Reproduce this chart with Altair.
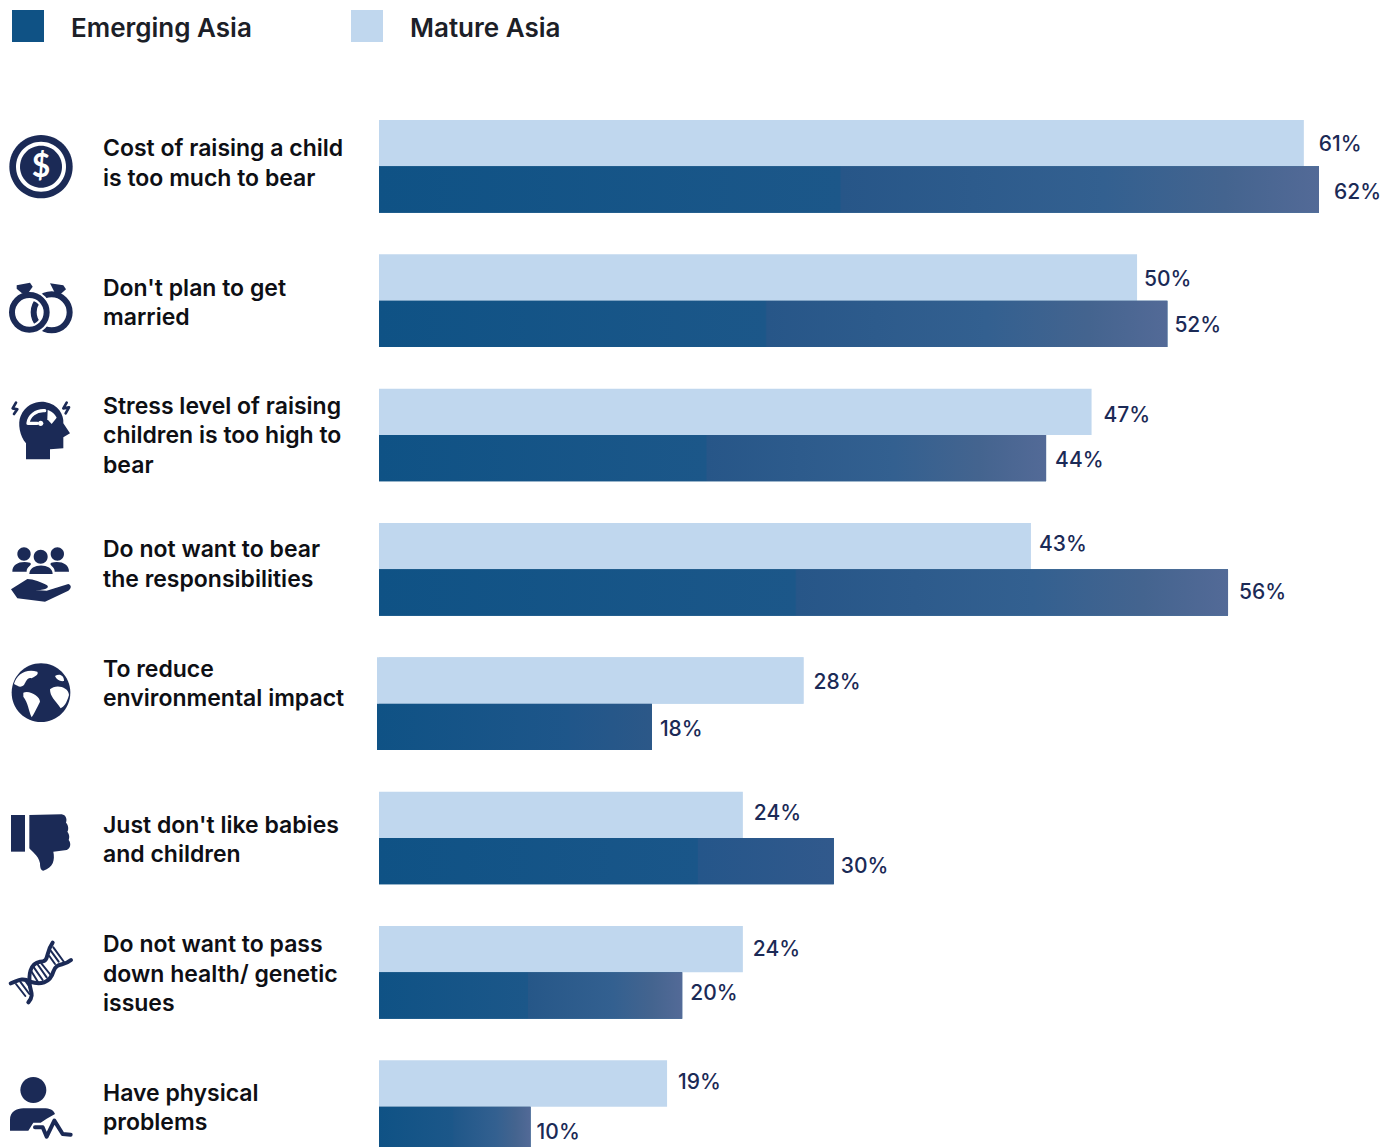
import altair as alt
import pandas as pd

categories = [
    "Cost of raising a child\nis too much to bear",
    "Don't plan to get\nmarried",
    "Stress level of raising\nchildren is too high to\nbear",
    "Do not want to bear\nthe responsibilities",
    "To reduce\nenvironmental impact",
    "Just don't like babies\nand children",
    "Do not want to pass\ndown health/ genetic\nissues",
    "Have physical\nproblems",
]
mature_asia = [61, 50, 47, 43, 28, 24, 24, 19]
emerging_asia = [62, 52, 44, 56, 18, 30, 20, 10]
series_names = ["Mature Asia", "Emerging Asia"]

LIGHT = "#c0d7ee"
DARK = "#0f5285"
INK = "#1b2a56"
TEXT_FONT = "Inter"

# Per-row nudges of the text: first-line dy of the category block, then (dx, dy) of the value labels
row_dy = [-17, -12, -28, -19, -34, -12, -27, -13]
mature_nudge = [(15, 2), (7, 2), (12, 4), (8, -1), (10, 3), (11, -1), (10, 1), (11, 0)]
emerging_nudge = [(15, 3), (7, 2), (9, 3), (11, 0), (8, 3), (7, 6), (8, -1), (6, 3)]

# Fade of each dark bar: (break position, colour before, colour after, later stops)
TAIL = [(0.77, "#336090"), (0.9, "#44648f"), (1, "#536a97")]
fades = [
    (0.49, "#1c5789", "#275688", TAIL),
    (0.49, "#1c5789", "#275688", TAIL),
    (0.49, "#1c5789", "#275688", TAIL),
    (0.49, "#1c5789", "#275688", TAIL),
    (0.70, "#1e568a", "#20568a", [(1, "#2c5888")]),
    (0.70, "#1a5689", "#25568a", [(1, "#31598c")]),
    (0.49, "#1c5789", "#265788", TAIL),
    (0.49, "#1c5789", "#1f5789", TAIL),
]

table = pd.DataFrame({
    "category": categories * 2,
    "series": ["Mature Asia"] * 8 + ["Emerging Asia"] * 8,
    "value": mature_asia + emerging_asia,
})
table["label"] = table["value"].astype(str) + "%"

x_scale = alt.Scale(domain=[0, 62], range=[379, 1319])
y_scale = alt.Scale(domain=categories, range=[120, 1153], paddingInner=0.31, paddingOuter=0)
y = alt.Y("category:N", scale=y_scale, axis=None)
y_off = alt.YOffset("series:N", scale=alt.Scale(domain=series_names, paddingInner=0, paddingOuter=0))
x = alt.X("value:Q", scale=x_scale, axis=None)

layers = []

# Solid bars; these carry the legend
base_bars = (
    alt.Chart(table)
    .mark_bar()
    .encode(
        x=x,
        y=y,
        yOffset=y_off,
        color=alt.Color(
            "series:N",
            scale=alt.Scale(domain=["Emerging Asia", "Mature Asia"], range=[DARK, LIGHT]),
            legend=alt.Legend(
                title=None,
                orient="none",
                legendX=12,
                legendY=13,
                direction="horizontal",
                columns=2,
                # square sits slightly above the label's middle
                symbolType="M-1,-1.1875 L1,-1.1875 L1,0.8125 L-1,0.8125 Z",
                symbolSize=1024,
                symbolStrokeWidth=0,
                labelFont=TEXT_FONT,
                labelFontSize=26,
                labelFontWeight=600,
                labelColor="#1c2027",
                labelOffset=27,
                columnPadding=99,
                labelLimit=400,
            ),
        ),
    )
)
layers.append(base_bars)

# Row-by-row gradient and text layers
for i, cat in enumerate(categories):
    row = table[table["category"] == cat]
    emerging = row[row["series"] == "Emerging Asia"]
    mature = row[row["series"] == "Mature Asia"]
    brk, before, after, tail = fades[i]
    stops = [
        alt.GradientStop(offset=0, color=DARK),
        alt.GradientStop(offset=brk, color=before),
        alt.GradientStop(offset=brk + 0.002, color=after),
    ] + [alt.GradientStop(offset=o, color=c) for o, c in tail]
    fill = alt.Gradient(gradient="linear", x1=0, x2=1, y1=0, y2=0, stops=stops)
    # the fifth row's bars start a touch further left
    if i == 4:
        layers.append(
            alt.Chart(mature)
            .mark_bar(color=LIGHT, x2Offset=-2)
            .encode(x=x, x2=alt.X2(datum=0), y=y, yOffset=y_off)
        )
        layers.append(
            alt.Chart(emerging)
            .mark_bar(color=fill, x2Offset=-2)
            .encode(x=x, x2=alt.X2(datum=0), y=y, yOffset=y_off)
        )
    else:
        layers.append(
            alt.Chart(emerging).mark_bar(color=fill).encode(x=x, y=y, yOffset=y_off)
        )
    for frame, nudge in ((mature, mature_nudge[i]), (emerging, emerging_nudge[i])):
        layers.append(
            alt.Chart(frame)
            .mark_text(
                align="left", baseline="middle", font=TEXT_FONT, fontSize=21, fontWeight=500,
                color=INK, dx=nudge[0], dy=nudge[1],
            )
            .encode(x=x, y=y, yOffset=y_off, text="label:N")
        )
    layers.append(
        alt.Chart(row.head(1))
        .mark_text(
            align="left", baseline="middle", font=TEXT_FONT, fontSize=23, fontWeight=600,
            color="#0e0f14", lineBreak="\n", lineHeight=29.3, dy=row_dy[i],
        )
        .encode(x=alt.value(103), y=y, text="category:N")
    )

# Pictograms: outlines are drawn in a 3x local grid, placed at a band's origin
GRID = 4 / 9


def dot(cx, cy, r):
    return f"M{cx + r},{cy} A{r},{r} 0 1 0 {cx - r},{cy} A{r},{r} 0 1 0 {cx + r},{cy} Z"


def glyph(path, top, fill=INK, stroke=None, width=0):
    frame = alt.Data(values=[{"k": 1}])
    props = {"shape": path, "size": GRID, "opacity": 1}
    if stroke:
        props.update(filled=False, stroke=stroke, strokeWidth=width / 3, strokeCap="round", strokeJoin="round")
    else:
        props.update(filled=True, fill=fill, strokeWidth=0)
    return alt.Chart(frame).mark_point(**props).encode(x=alt.value(0), y=alt.value(top))


WHITE = "#ffffff"
PULSE = "M105,1042 L128,1042 L140,1070 L163,1022 L188,1062 L212,1064"
icons = [
    # coin
    (dot(123, 500, 95), 0, INK, None, 0),
    (dot(123, 500, 75), 0, WHITE, None, 0),
    (dot(123, 500, 63), 0, INK, None, 0),
    # rings
    (dot(155, 937, 54), 0, None, INK, 18),
    (dot(88, 937, 52), 0, None, WHITE, 31),
    (dot(88, 937, 52), 0, None, INK, 18),
    ("M50,856 L90,848 L98,860 L84,880 L66,880 L50,866 Z", 0, INK, None, 0),
    ("M150,850 L190,856 L198,868 L182,882 L165,880 Z", 0, INK, None, 0),
    # head with gauge
    ("M78,238 L78,190 C60,170 52,130 62,108 C78,70 115,62 135,66 C175,72 192,105 190,130 "
     "L210,160 L190,172 L190,205 L150,208 L150,238 Z", 380, INK, None, 0),
    ("M84,130 C86,108 108,90 134,92 M84,130 L112,130", 380, None, WHITE, 10),
    ("M143,90 C155,93 165,103 170,113 L155,132 L142,118 Z", 380, WHITE, None, 0),
    (dot(122, 130, 8), 380, WHITE, None, 0),
    ("M48,68 L38,85 L52,88 L42,102", 380, None, INK, 8),
    ("M200,68 L190,85 L207,82 L197,100", 380, None, INK, 8),
    # people and open hand
    (dot(72, 522, 20), 380, INK, None, 0),
    (dot(172, 522, 20), 380, INK, None, 0),
    ("M37,575 C37,552 60,542 90,548 C100,555 78,560 80,575 Z", 380, INK, None, 0),
    ("M207,575 C207,552 184,542 154,548 C144,555 166,560 164,575 Z", 380, INK, None, 0),
    (dot(122, 530, 21), 380, INK, None, 0),
    ("M88,582 C88,548 158,548 158,582 Z", 380, INK, None, 0),
    ("M33,628 L82,597 C100,597 125,608 140,615 C150,622 140,631 105,630 L140,632 "
     "L205,612 C215,615 215,625 205,632 L135,665 L52,655 Z", 380, INK, None, 0),
    # globe
    (dot(123, 938, 88), 380, INK, None, 0),
    ("M42,912 C50,885 75,865 112,875 C118,885 100,890 95,895 C82,890 78,905 72,915 C60,925 55,918 42,912 Z",
     380, WHITE, None, 0),
    ("M70,938 C90,930 120,950 120,965 C110,985 100,1005 95,1012 C85,990 85,970 70,950 Z", 380, WHITE, None, 0),
    ("M150,928 C165,912 205,918 207,945 C200,970 192,980 182,985 C165,960 150,950 150,928 Z", 380, WHITE, None, 0),
    ("M165,888 C178,880 192,885 192,903 C180,905 170,900 165,888 Z", 380, WHITE, None, 0),
    # thumb down with finger notches
    ("M33,105 L75,105 L75,215 L33,215 Z", 780, INK, None, 0),
    ("M88,105 L185,103 C198,105 202,118 198,128 C206,135 206,150 202,155 C210,165 208,175 206,180 "
     "C214,190 212,205 200,210 L160,215 C165,240 160,262 130,272 C122,272 120,262 120,250 "
     "C115,225 95,215 88,205 Z", 780, INK, None, 0),
    # double helix
    ("M158,488 C135,520 150,545 120,545 C90,550 85,585 90,620 C95,640 100,650 85,667", 780, None, INK, 12),
    ("M213,540 C190,560 170,545 160,575 C150,610 120,615 90,605 C65,590 50,605 32,610", 780, None, INK, 12),
    ("M100,560 L128,600 M112,552 L140,592 M124,550 L152,585 M94,574 L114,606 "
     "M152,512 L176,545 M160,502 L192,546 M148,528 L165,552 "
     "M48,612 L76,648 M60,604 L88,642 M74,600 L92,625", 780, None, INK, 6),
    # person with pulse trace
    (dot(100, 930, 39), 780, INK, None, 0),
    ("M30,1052 L30,1020 C30,995 50,985 70,985 L130,985 C150,985 160,990 165,1002 L140,1016 "
     "L122,1028 L100,1028 L85,1052 Z", 780, INK, None, 0),
    (PULSE, 780, None, WHITE, 20),
    (PULSE, 780, None, INK, 12),
]
for path, top, fill, stroke, width in icons:
    layers.append(glyph(path, top, fill, stroke, width))

layers.append(
    alt.Chart(alt.Data(values=[{"t": "$"}]))
    .mark_text(font="Lato", fontSize=32, fontWeight=700, color=WHITE, baseline="middle", align="center")
    .encode(x=alt.value(41), y=alt.value(167), text="t:N")
)

chart = (
    alt.layer(*layers)
    .properties(width=1382, height=1147, padding=0, autosize=alt.AutoSizeParams(type="none"))
    .configure_view(stroke=None)
    .resolve_scale(y="shared", x="shared")
)

chart.save("out.html", embed_options={"renderer": "svg", "actions": False})
